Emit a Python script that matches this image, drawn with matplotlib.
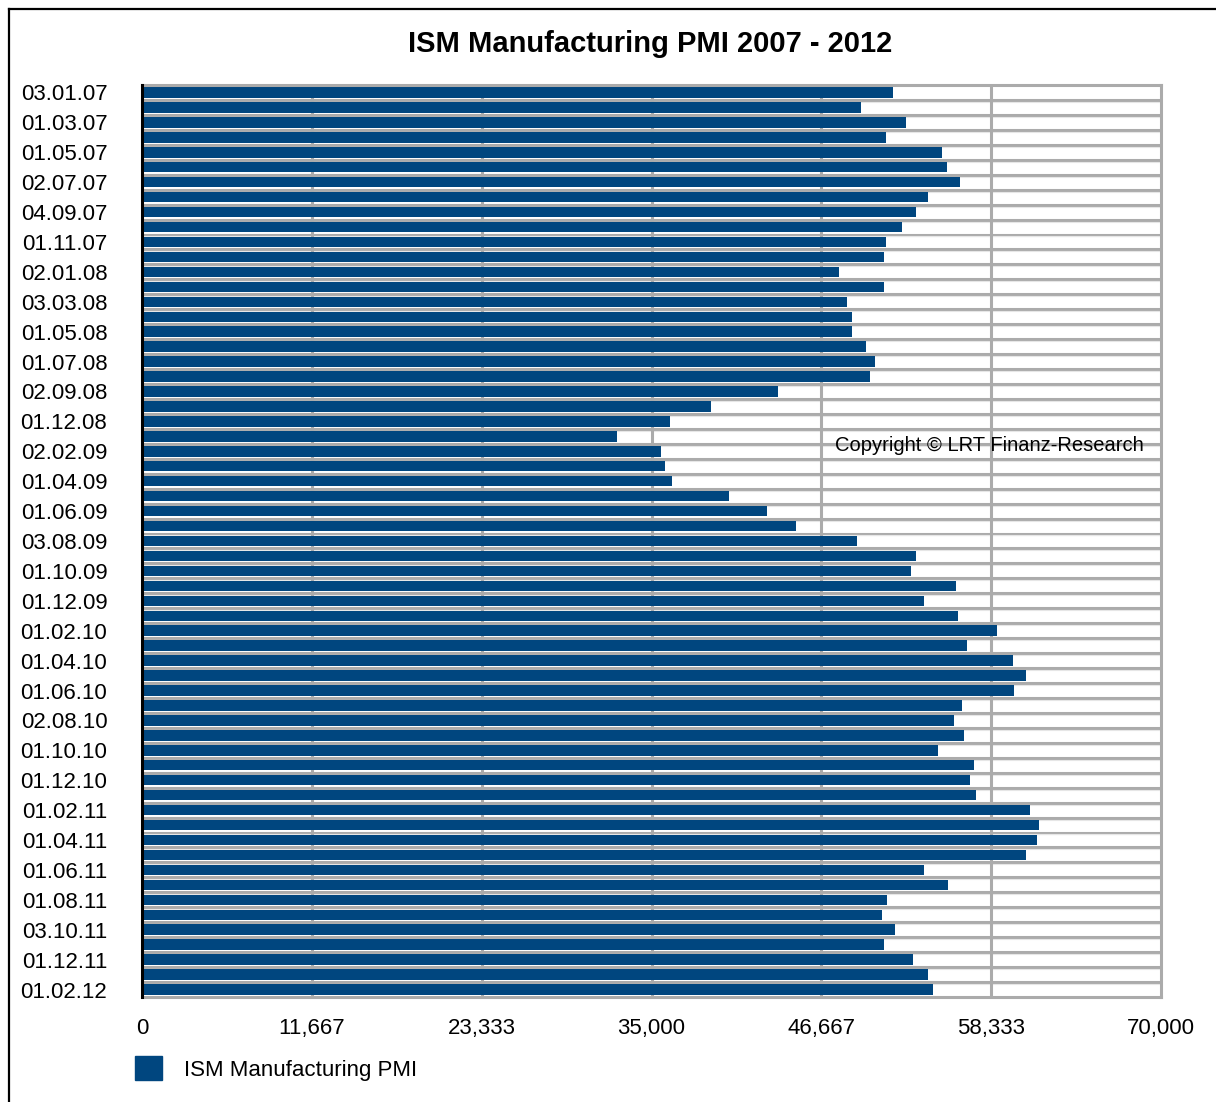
import numpy as np
import matplotlib
matplotlib.use('Agg')
import matplotlib.pyplot as plt
from matplotlib.lines import Line2D
from matplotlib.patches import Patch

plt.rcParams['font.family'] = ['Liberation Sans', 'DejaVu Sans']

title = 'ISM Manufacturing PMI 2007 - 2012'
series_name = 'ISM Manufacturing PMI'
copyright_note = 'Copyright \u00a9 LRT Finanz-Research'

# one bar per monthly release, top to bottom
pmi_values = [
    51600, 49400, 52450, 51100, 54950, 55300, 56200, 54000, 53150, 52200,
    51100, 50950, 47850, 50950, 48450, 48800, 48800, 49750, 50350, 50000,
    43700, 39100, 36250, 32600, 35650, 35900, 36400, 40300, 42900, 44900,
    49100, 53150, 52800, 55900, 53750, 56050, 58700, 56700, 59800, 60700,
    59900, 56350, 55750, 56500, 54700, 57150, 56850, 57300, 61000, 61650,
    61450, 60700, 53750, 55400, 51150, 50800, 51700, 50950, 52950, 54000,
    54350,
]

# every second release date is labelled
date_labels = [
    '03.01.07', '01.03.07', '01.05.07', '02.07.07', '04.09.07', '01.11.07',
    '02.01.08', '03.03.08', '01.05.08', '01.07.08', '02.09.08', '01.12.08',
    '02.02.09', '01.04.09', '01.06.09', '03.08.09', '01.10.09', '01.12.09',
    '01.02.10', '01.04.10', '01.06.10', '02.08.10', '01.10.10', '01.12.10',
    '01.02.11', '01.04.11', '01.06.11', '01.08.11', '03.10.11', '01.12.11',
    '01.02.12',
]

x_ticks = [0, 11667, 23333, 35000, 46667, 58333, 70000]

BAR_BLUE = '#00467f'
GRID_GREY = '#ababab'

fig = plt.figure(figsize=(12.16, 11.02), dpi=100)
ax = fig.add_axes([142 / 1216, 1 - 997 / 1102, (1161 - 142) / 1216, (997 - 85) / 1102])

n = len(pmi_values)
pos = np.arange(n)
ax.set_xlim(0, 70000)
ax.set_ylim(n - 0.5, -0.5)

# grey row separators and vertical grid behind the bars
for b in np.arange(n - 1) + 0.5:
    ax.axhline(b, color=GRID_GREY, lw=2.2, zorder=1)
    ax.axhline(b + 0.13, color='#e6e6e6', lw=0.8, zorder=1)
for t in x_ticks[1:-1]:
    ax.axvline(t, color=GRID_GREY, lw=2.2, zorder=1)

ax.barh(pos, pmi_values, height=0.7, color=BAR_BLUE, zorder=2)

for side in ['top', 'right', 'bottom']:
    ax.spines[side].set_color(GRID_GREY)
    ax.spines[side].set_linewidth(2.2)
ax.spines['left'].set_color('black')
ax.spines['left'].set_linewidth(2.2)
ax.spines['left'].set_zorder(3)

ax.set_yticks(pos[::2])
ax.set_yticklabels(date_labels)
ax.set_xticks(x_ticks)
ax.set_xticklabels(['{:,}'.format(t) for t in x_ticks])
ax.tick_params(axis='y', length=0, pad=25, labelsize=16)
ax.tick_params(axis='x', length=0, pad=15, labelsize=16)

ax.text(0.680, 0.6046, copyright_note, transform=ax.transAxes,
        fontsize=14.5, ha='left', va='center', zorder=5)

fig.text(650 / 1216, 1 - 44 / 1102, title, ha='center', va='center',
         fontsize=21, fontweight='bold')

fig.legend(handles=[Patch(color=BAR_BLUE, label=series_name)],
           loc='upper left', bbox_to_anchor=(135 / 1216, 1 - 1056 / 1102),
           frameon=False, fontsize=16, handlelength=1.2, handleheight=1.3,
           handletextpad=1.0, borderpad=0, borderaxespad=0)

# outer frame (top and left edges)
fig.add_artist(Line2D([9 / 1216, 1], [1 - 9 / 1102] * 2, color='black',
                      lw=1.6, transform=fig.transFigure))
fig.add_artist(Line2D([9 / 1216] * 2, [0, 1 - 9 / 1102], color='black',
                      lw=1.6, transform=fig.transFigure))

fig.savefig('out.png', dpi=100)
